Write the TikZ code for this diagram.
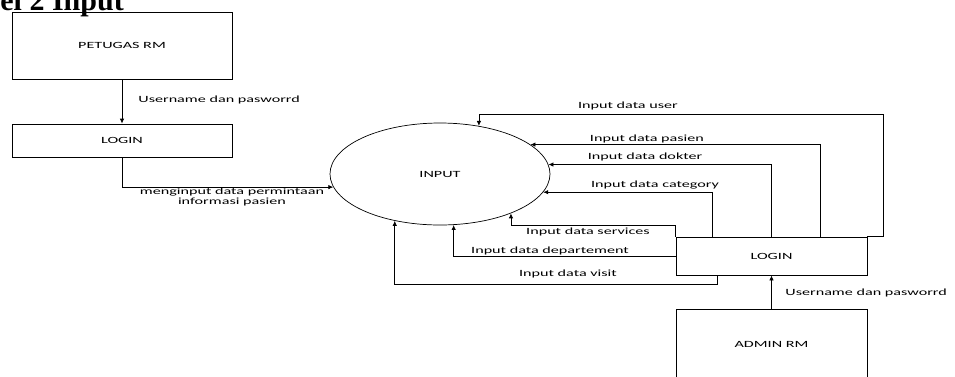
\documentclass[tikz,border=0pt]{standalone}
\usepackage{fontspec}
\setmainfont{Carlito}
\newfontfamily\lblfont[FakeStretch=1.7]{Carlito}
\newfontfamily\headfont{Liberation Serif}
\usetikzlibrary{arrows.meta,calc,shapes.geometric}
\begin{document}
\begin{tikzpicture}[x=1pt,y=-1pt,
  line width=0.8pt,
  box/.style={draw,rectangle,inner sep=0pt,font=\lblfont\fontsize{9.5}{10}\selectfont},
  proc/.style={draw,ellipse,inner sep=0pt,minimum width=220pt,minimum height=102pt,line width=0.7pt,font=\lblfont\fontsize{9.5}{10}\selectfont},
  lbl/.style={inner sep=0pt,font=\lblfont\fontsize{9.5}{10}\selectfont},
  arr/.style={-{Latex[length=5pt,width=4.5pt]}}]
\useasboundingbox (0,0) rectangle (955,376);
\clip (0,0) rectangle (955,376);
\node[anchor=base west,inner sep=0pt,font=\headfont\bfseries\fontsize{30}{32}\selectfont] (head) at (0,10) {el 2 Input};
\node[box,minimum width=220pt,minimum height=67pt] (petugas) at (122,45.5) {PETUGAS RM};
\node[box,minimum width=220pt,minimum height=33pt] (login1) at (122,140.5) {LOGIN};
\node[proc] (input) at (440,174) {INPUT};
\node[box,minimum width=191pt,minimum height=38pt] (login2) at (771.5,256) {LOGIN};
\node[box,minimum width=191pt,minimum height=70pt] (admin) at (771.5,344) {ADMIN RM};
% left side
\draw[arr] (petugas.south) -- (login1.north);
\node[lbl,anchor=west] (l1) at (138,100) {Username dan pasworrd};
\draw[arr] (login1.south) |- (input.-173.03);
\node[lbl,align=center] (l2) at (232,197) {menginput data permintaan\\informasi pasien};
% right side
\draw[arr] (admin.north) -- (login2.south);
\node[lbl,anchor=west] (l3) at (785,293) {Username dan pasworrd};
\draw[arr] (login2.north east) -- ++(16,0) -- ++(0,-122) -| (input.51.57);
\node[lbl] (u) at (628,106) {Input data user};
\draw[arr] ([xshift=145pt]login2.north west) |- (input.18.6);
\node[lbl] (p) at (647,139) {Input data pasien};
\draw[arr] (login2.north) |- (input.5.85);
\node[lbl] (d) at (645,157) {Input data dokter};
\draw[arr] ([xshift=37pt]login2.north west) |- (input.-10.55);
\node[lbl] (c) at (655,185) {Input data category};
\draw[arr] (login2.north west) -- ++(0,-11) -| (input.-29.9);
\node[lbl] (s) at (588,232) {Input data services};
\draw[arr] (login2.west) -| (input.-75.6);
\node[lbl] (dp) at (550,251) {Input data departement};
\draw[arr] ([xshift=42pt]login2.south west) -- ++(0,9) -| (input.-134.1);
\node[lbl] (v) at (568,274) {Input data visit};
\end{tikzpicture}
\end{document}
